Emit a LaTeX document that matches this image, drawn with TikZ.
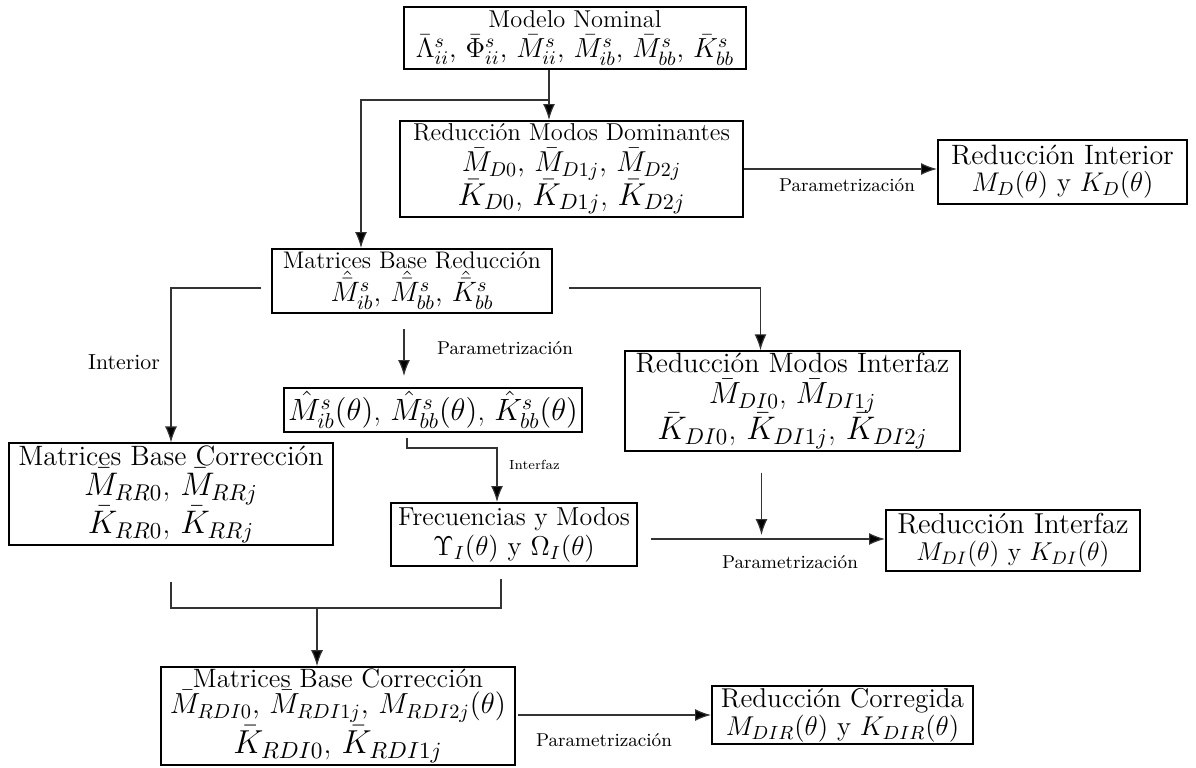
\RequirePackage{fix-cm}
\documentclass[tikz,border=0pt]{standalone}
\usepackage{amsmath}
\usetikzlibrary{arrows.meta}
\usetikzlibrary{calc}
\newcommand\fsz[2]{\fontsize{#1}{#2}\selectfont}
\tikzset{
    block/.style={
        draw,
        line width=1pt,
        align=center,
        inner sep=1pt,
    },
    link/.style={
        draw=black!80,
        line width=0.6pt,
    },
    link arrow/.style={
        link,
        -{Latex[length=8pt,width=6pt,fill=black]},
    },
    link label/.style={
        font=\fsz{9.3}{11},
        inner sep=0,
    },
}

\begin{document}
\begin{tikzpicture}[x=0.5pt,y=-0.5pt]
    \useasboundingbox (0,0) rectangle (1196,767);

    % boxes
    \node[block, minimum width=171pt, minimum height=31pt, font=\fsz{12.2}{15}] (nominal) at (575,38)
        {Modelo Nominal\\ {\fsz{13.8}{15}$\bar{\Lambda}^s_{ii}$, $\bar{\Phi}^s_{ii}$, $\bar{M}^s_{ii}$, $\bar{M}^s_{ib}$, $\bar{M}^s_{bb}$, $\bar{K}^s_{bb}$}};
    \node[block, minimum width=171.5pt, minimum height=48pt, font=\fsz{12.2}{15.5}] (dominant) at (571.5,169)
        {Reducción Modos Dominantes\\ {\fsz{14.4}{15}$\bar{M}_{D0}$, $\bar{M}_{D1j}$, $\bar{M}_{D2j}$}\\[-1.5pt] {\fsz{15.8}{15}$\bar{K}_{D0}$, $\bar{K}_{D1j}$, $\bar{K}_{D2j}$}};
    \node[block, minimum width=124.5pt, minimum height=32pt, font=\fsz{14}{13.5}] (interior) at (1062.5,172)
        {Reducción Interior\\ {\fsz{13.5}{13.5}$M_D(\theta)$ y $K_D(\theta)$}};
    \node[block, minimum width=140pt, minimum height=32pt, font=\fsz{12}{15}] (basered) at (412,281)
        {Matrices Base Reducción\\ {\fsz{14}{15}$\hat{\bar{M}}^s_{ib}$, $\hat{\bar{M}}^s_{bb}$, $\hat{\bar{K}}^s_{bb}$}};
    \node[block, minimum width=149pt, minimum height=22pt, font=\fsz{15.4}{17}] (theta) at (433,410)
        {$\hat{M}^s_{ib}(\theta)$, $\hat{M}^s_{bb}(\theta)$, $\hat{K}^s_{bb}(\theta)$};
    \node[block, minimum width=167.5pt, minimum height=49.5pt, font=\fsz{14}{15.5}] (modint) at (792.5,401)
        {Reducción Modos Interfaz\\ {\fsz{15.3}{15.5}$\bar{M}_{DI0}$, $\bar{M}_{DI1j}$}\\[-1pt] {\fsz{16.3}{15.5}$\bar{K}_{DI0}$, $\bar{K}_{DI1j}$, $\bar{K}_{DI2j}$}};
    \node[block, minimum width=162pt, minimum height=48pt, font=\fsz{14}{15}] (corrleft) at (171,494)
        {Matrices Base Corrección\\ {\fsz{16.3}{15}$\bar{M}_{RR0}$, $\bar{M}_{RRj}$}\\ {\fsz{16.3}{15}$\bar{K}_{RR0}$, $\bar{K}_{RRj}$}};
    \node[block, minimum width=123pt, minimum height=31.5pt, font=\fsz{13}{15}] (frec) at (514,534.5)
        {Frecuencias y Modos\\ {\fsz{13.6}{15}$\Upsilon_I(\theta)$ y $\Omega_I(\theta)$}};
    \node[block, minimum width=127pt, minimum height=30.5pt, font=\fsz{14.4}{13.5}] (redint) at (1013,540.5)
        {Reducción Interfaz\\ {\fsz{12.9}{13.5}$M_{DI}(\theta)$ y $K_{DI}(\theta)$}};
    \node[block, minimum width=177pt, minimum height=48pt, font=\fsz{13.3}{14}] (corrbot) at (338,716)
        {Matrices Base Corrección\\[-1pt] {\fsz{14.5}{14}$\bar{M}_{RDI0}$, $\bar{M}_{RDI1j}$, $M_{RDI2j}(\theta)$}\\[1pt] {\fsz{16.6}{14}$\bar{K}_{RDI0}$, $\bar{K}_{RDI1j}$}};
    \node[block, minimum width=130.5pt, minimum height=26pt, font=\fsz{13.6}{12}] (corrected) at (842.5,715)
        {Reducción Corregida\\ $M_{DIR}(\theta)$ y $K_{DIR}(\theta)$};

    % connectors
    \coordinate (split) at (549,100);
    \draw[link arrow] (nominal.south -| split) -- (dominant.north -| split);
    \draw[link arrow] (split) -| ($(basered.north)+(-51,0)$);
    \draw[link arrow] (dominant.east) -- (dominant.east -| interior.west);
    \node[link label] (lbl1) at (847,185) {Parametrización};

    \draw[link arrow] ($(basered.west)+(-10,7)$) -| (corrleft.north);
    \node[font=\fsz{10.9}{12}, inner sep=0] (lblint) at (124,362) {Interior};
    \draw[link arrow] ($(basered.east)+(16,7)$) -| ($(modint.north)+(-32,0)$);
    \draw[link arrow] ($(basered.south)+(-8,15)$) -- ($(theta.north)+(-29,-11)$);
    \node[link label] (lbl2) at (505,348) {Parametrización};

    \draw[link arrow] ($(theta.south)+(-26,5)$) -- ++(0,10) -| ($(frec.north)+(-17,0)$);
    \node[font=\fsz{6.6}{7}, inner sep=0] (lblif) at (534.5,465) {Interfaz};

    \coordinate (fstart) at ($(frec.east)+(13,4.5)$);
    \draw[link arrow] (fstart) -- (fstart -| redint.west);
    \draw[link arrow] ($(modint.south)+(-31,21)$) -- ($(modint.south |- fstart)+(-31,-4)$);
    \node[link label] (lbl3) at (790,562) {Parametrización};

    \coordinate (merge) at (317,608);
    \draw[link] ($(corrleft.south)+(0,36)$) |- (merge) -| ($(frec.south)+(-13,12)$);
    \draw[link arrow] (merge) -- (merge |- corrbot.north);

    \draw[link arrow] ($(corrbot.east)+(2,-1)$) -- (corrected.west);
    \node[link label] (lbl4) at (604,740) {Parametrización};
\end{tikzpicture}
\end{document}
